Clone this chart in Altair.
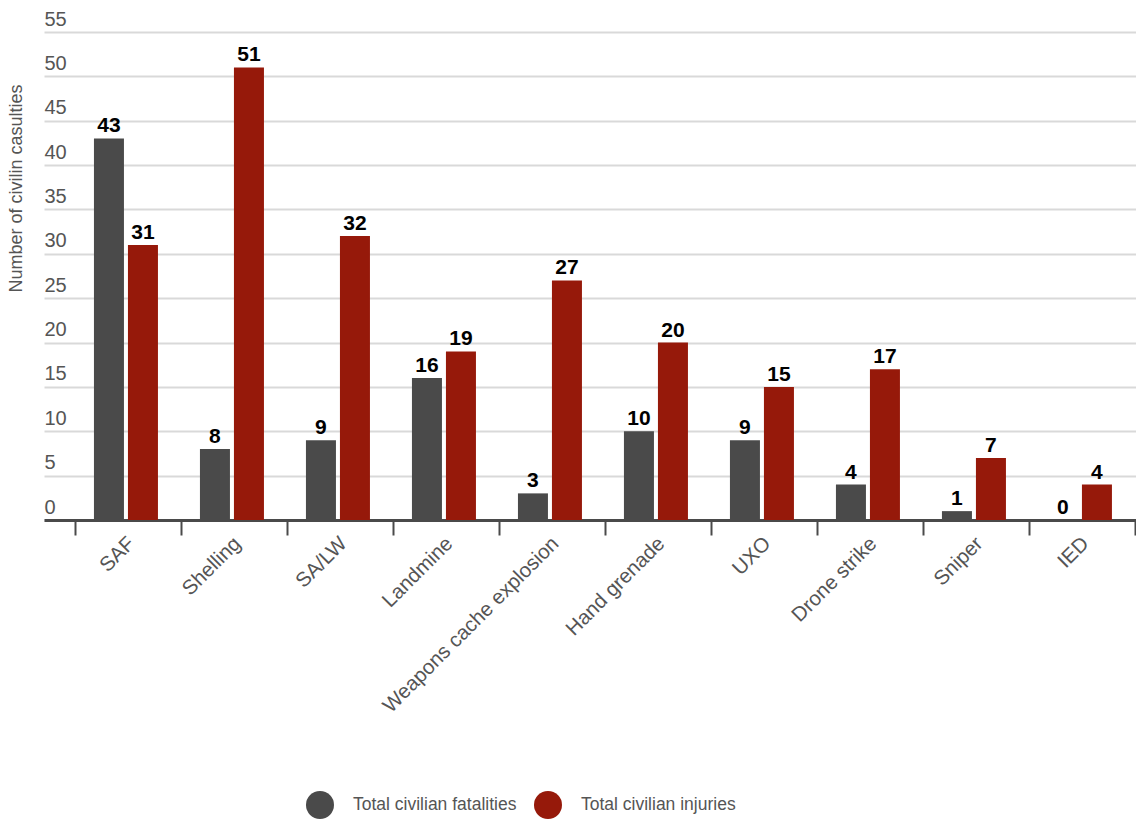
import altair as alt
import pandas as pd

categories = ["SAF", "Shelling", "SA/LW", "Landmine", "Weapons cache explosion",
              "Hand grenade", "UXO", "Drone strike", "Sniper", "IED"]
fatalities = [43, 8, 9, 16, 3, 10, 9, 4, 1, 0]
injuries = [31, 51, 32, 19, 27, 20, 15, 17, 7, 4]
series = ["Total civilian fatalities", "Total civilian injuries"]
colors = ["#4a4a4a", "#96190a"]
y_ticks = list(range(0, 56, 5))

rows = []
for c, f, i in zip(categories, fatalities, injuries):
    rows.append({"cat": c, "series": series[0], "value": f})
    rows.append({"cat": c, "series": series[1], "value": i})
df = pd.DataFrame(rows)

FONT = "Liberation Sans"

x = alt.X("cat:N", sort=categories, title=None,
          scale=alt.Scale(paddingInner=0, paddingOuter=0.151, align=0.97),
          axis=alt.Axis(labelAngle=-45, labelFontSize=20.5, labelColor="#555555",
                        labelFont=FONT, tickBand="extent", tickSize=15, tickWidth=2,
                        tickColor="#4a4a4a", domainColor="#4a4a4a", domainWidth=3,
                        labelPadding=-2, labelOffset=-4, labelLimit=0, grid=False))
xo = alt.XOffset("series:N", sort=series,
                 scale=alt.Scale(paddingInner=0.1176, paddingOuter=0.6176, align=0.45))
y = alt.Y("value:Q", title="Number of civilin casulties",
          scale=alt.Scale(domain=[0, 55], nice=False),
          axis=alt.Axis(values=y_ticks, labelAlign="left", labelBaseline="alphabetic",
                        labelOffset=-7, labelPadding=0, ticks=False, tickSize=0,
                        domain=False, labelFontSize=20, labelColor="#555555",
                        labelFont=FONT, gridColor="#d9d9d9", gridWidth=2,
                        titleFontSize=18, titleFont=FONT, titleColor="#555555",
                        titleFontWeight="normal", titleX=-28, titleY=156,
                        titleAlign="center", titleBaseline="middle", titleAngle=270))

bars = alt.Chart(df).mark_bar().encode(
    x=x, xOffset=xo, y=y,
    color=alt.Color("series:N", sort=series,
                    scale=alt.Scale(domain=series, range=colors),
                    legend=alt.Legend(title=None, orient="none", direction="horizontal",
                                      legendX=262, legendY=759, symbolType="circle",
                                      symbolSize=784, symbolStrokeWidth=0,
                                      labelFontSize=17.5, labelFont=FONT, labelLimit=0,
                                      labelColor="#555555", labelOffset=19,
                                      columnPadding=17, padding=0)),
)

text = alt.Chart(df).mark_text(baseline="alphabetic", dy=-6, fontSize=21,
                               fontWeight="bold", font=FONT, color="#000000").encode(
    x=x, xOffset=xo, y=y, text=alt.Text("value:Q"),
)

chart = alt.layer(bars, text).properties(
    width=1092, height=488,
    autosize=alt.AutoSizeParams(type="none"),
    padding={"left": 44, "top": 32, "right": 0, "bottom": 300},
).configure_view(stroke=None)

chart.save("out.html", embed_options={"renderer": "svg", "actions": False})
